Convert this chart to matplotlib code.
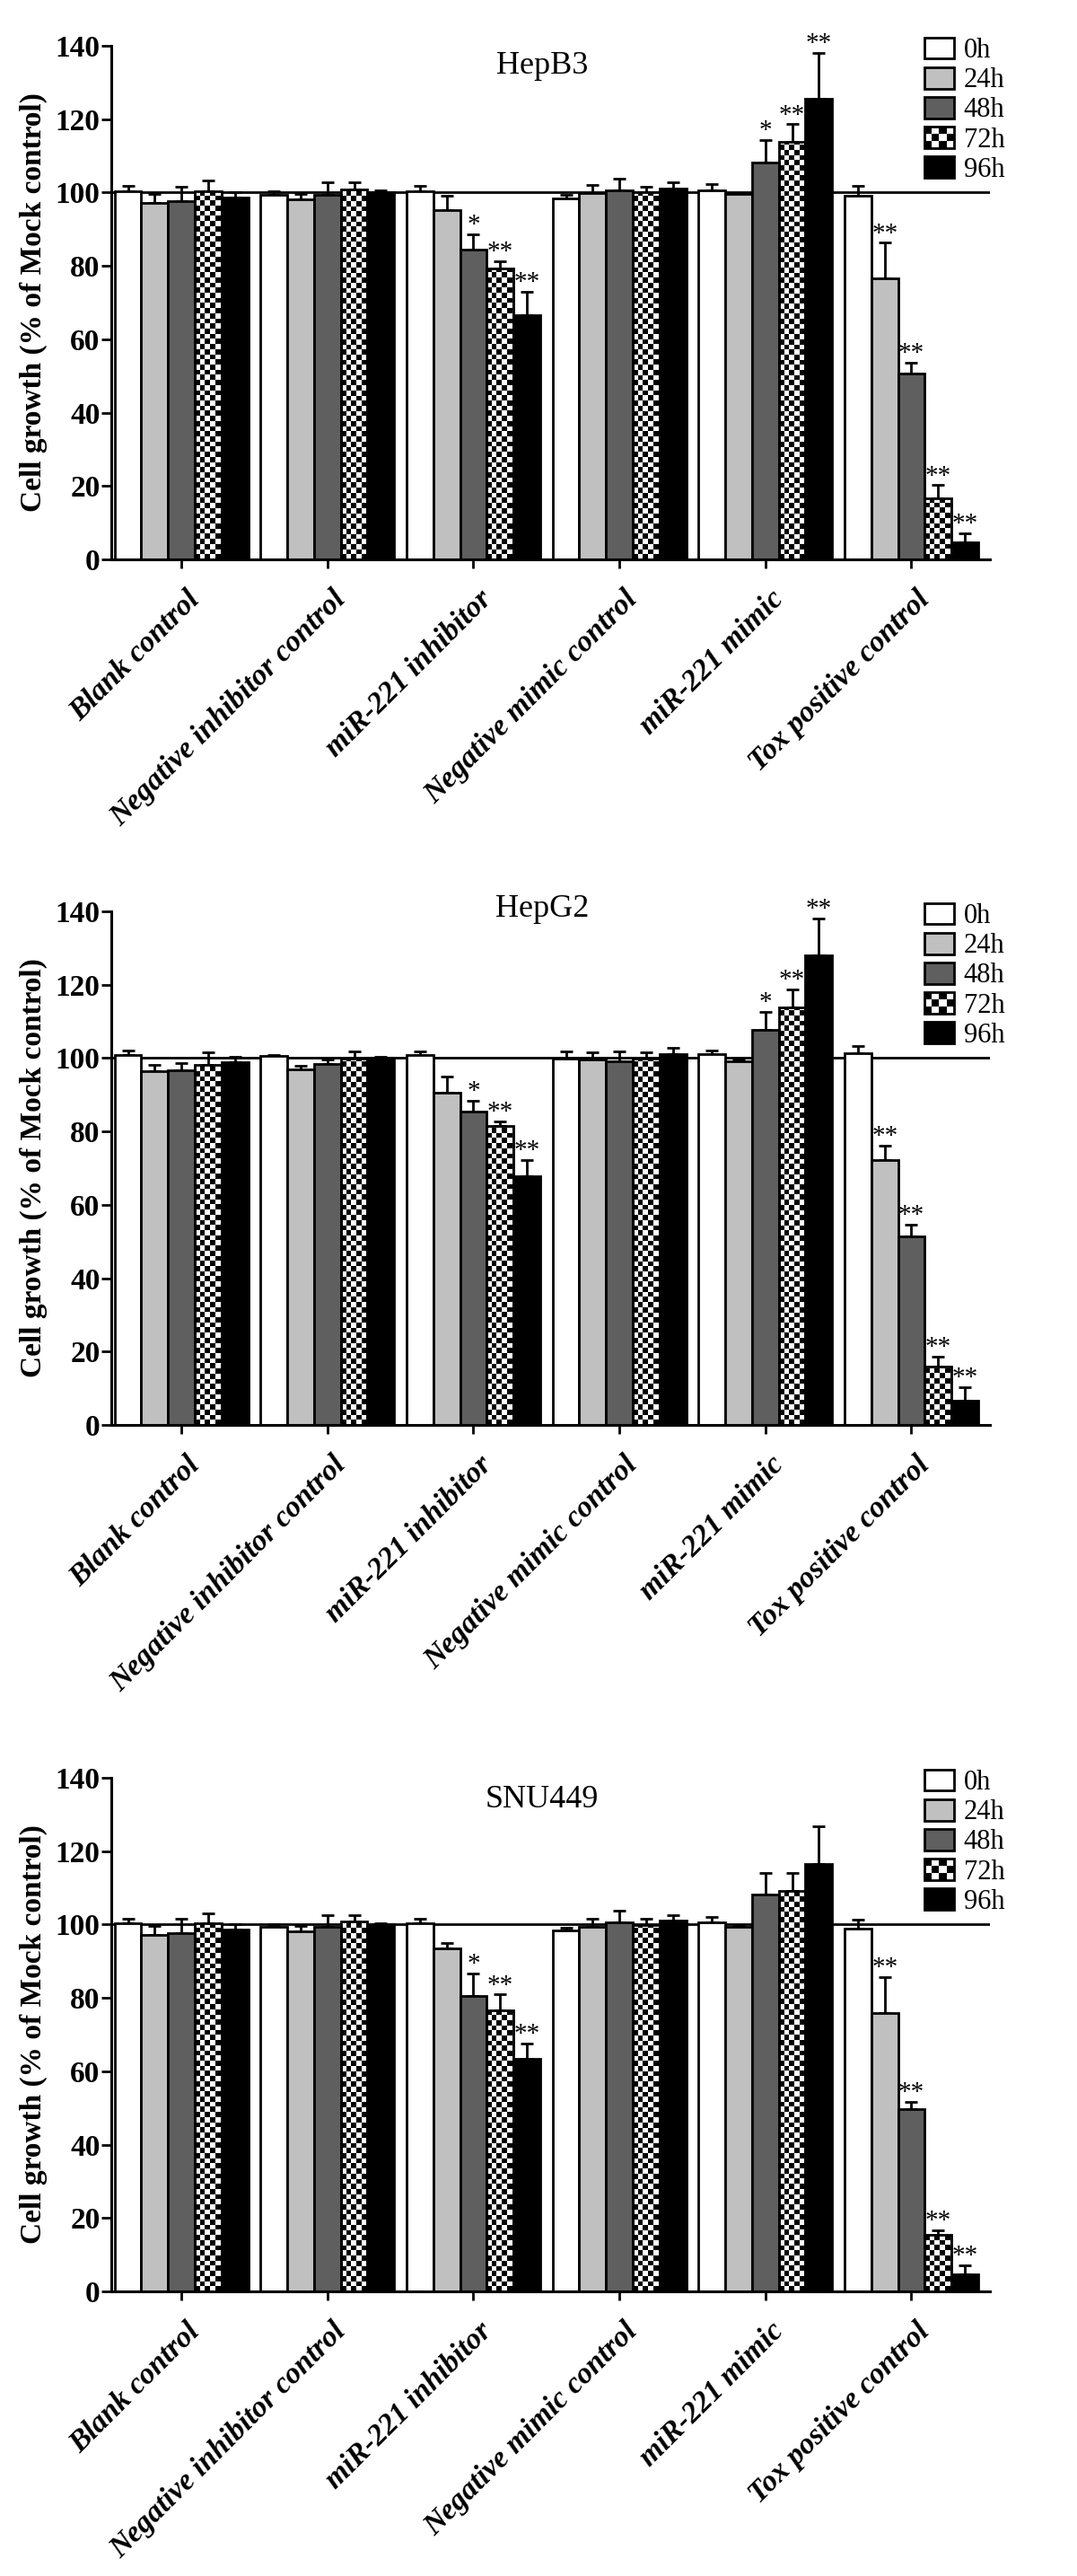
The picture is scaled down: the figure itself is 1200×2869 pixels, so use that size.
import numpy as np
import matplotlib
matplotlib.use("Agg")
import matplotlib.pyplot as plt
import matplotlib.transforms as mtransforms
from matplotlib.patches import Rectangle
from matplotlib.legend_handler import HandlerBase

plt.rcParams['font.family'] = ['Liberation Serif', 'DejaVu Serif']

groups = ["Blank control", "Negative inhibitor control", "miR-221 inhibitor",
          "Negative mimic control", "miR-221 mimic", "Tox positive control"]
times = ["0h", "24h", "48h", "72h", "96h"]
fills = ["white", "#c0c0c0", "#5f5f5f", "checker", "black"]

# one row per time point, one value per group
hepb3_mean = [[100.4, 99.4, 100.4, 98.5, 100.6, 99.2],
              [97.2, 98.2, 95.2, 99.8, 99.5, 76.6],
              [97.7, 99.4, 84.5, 100.6, 108.3, 50.6],
              [100.4, 100.8, 79.4, 100.0, 113.8, 16.7],
              [98.7, 100.2, 66.6, 101.0, 125.6, 4.6]]
hepb3_err = [[1.3, 0.9, 1.3, 0.8, 1.6, 2.5],
             [2.4, 1.3, 4.0, 2.2, 0.3, 9.7],
             [3.8, 3.3, 4.2, 3.2, 6.1, 3.0],
             [2.8, 1.9, 1.9, 1.5, 4.8, 3.5],
             [1.5, 0.3, 6.3, 1.7, 12.5, 2.5]]
hepb3_sig = [["", "", "", "", "", ""],
             ["", "", "", "", "", "**"],
             ["", "", "*", "", "*", "**"],
             ["", "", "**", "", "**", "**"],
             ["", "", "**", "", "**", "**"]]

hepg2_mean = [[100.8, 100.6, 100.8, 99.8, 101.1, 101.3],
              [96.5, 97.0, 90.6, 99.6, 99.2, 72.2],
              [96.6, 98.4, 85.3, 99.2, 107.7, 51.3],
              [98.2, 99.8, 81.4, 99.8, 113.8, 16.0],
              [98.8, 100.0, 67.9, 101.1, 128.1, 6.5]]
hepg2_err = [[1.2, 0.3, 1.0, 2.1, 0.9, 2.1],
             [1.6, 1.0, 4.3, 2.0, 0.3, 3.9],
             [2.0, 1.2, 3.1, 2.5, 5.0, 3.3],
             [3.4, 1.9, 1.3, 1.7, 4.9, 2.6],
             [1.5, 0.3, 4.3, 1.6, 9.9, 3.9]]
hepg2_sig = hepb3_sig

snu449_mean = [[100.3, 99.3, 100.3, 98.4, 100.6, 99.0],
               [97.2, 98.2, 93.5, 99.3, 99.4, 75.9],
               [97.7, 99.3, 80.5, 100.6, 108.2, 49.8],
               [100.4, 100.8, 76.6, 99.8, 109.2, 15.3],
               [98.7, 100.1, 63.3, 101.0, 116.5, 4.6]]
snu449_err = [[1.3, 0.9, 1.3, 0.7, 1.5, 2.4],
              [2.4, 1.3, 1.5, 2.3, 0.3, 9.7],
              [3.8, 3.3, 6.2, 3.2, 5.9, 1.9],
              [2.7, 1.8, 4.3, 1.7, 4.9, 1.3],
              [1.4, 0.3, 4.3, 1.6, 10.2, 2.6]]
snu449_sig = [["", "", "", "", "", ""],
              ["", "", "", "", "", "**"],
              ["", "", "*", "", "", "**"],
              ["", "", "**", "", "", "**"],
              ["", "", "**", "", "", "**"]]

panels = [("HepB3", hepb3_mean, hepb3_err, hepb3_sig, 0.946),
          ("HepG2", hepg2_mean, hepg2_err, hepg2_sig, 0.99),
          ("SNU449", snu449_mean, snu449_err, snu449_sig, 0.942)]


class CheckerHandler(HandlerBase):
    def create_artists(self, legend, orig_handle, xdescent, ydescent,
                       width, height, fontsize, trans):
        x0, y0 = -xdescent, -ydescent
        arts = [Rectangle((x0, y0), width, height, facecolor="white",
                          edgecolor="none", transform=trans)]
        nx, ny = 4, 3
        dx, dy = width / nx, height / ny
        for i in range(nx):
            for j in range(ny):
                if (i + j) % 2 == 0:
                    arts.append(Rectangle((x0 + i * dx, y0 + j * dy), dx, dy,
                                          facecolor="black", edgecolor="none",
                                          transform=trans))
        arts.append(Rectangle((x0, y0), width, height, facecolor="none",
                              edgecolor="black", lw=2, transform=trans))
        return arts


W, H = 1200, 2869
fig = plt.figure(figsize=(W / 100, H / 100), dpi=100)
ax_left, ax_right, ax_h = 124, 1103, 572
ax_tops = [51, 1015, 1980]
xlim = (-0.48, 5.538)
sq = 5.7  # checker square, pixels

x = np.arange(len(groups))
width = 0.183
offsets = (np.arange(len(times)) - 2) * width

for (name, means, errs, sigs, title_y), top in zip(panels, ax_tops):
    ax = fig.add_axes([ax_left / W, 1 - (top + ax_h) / H,
                       (ax_right - ax_left) / W, ax_h / H])
    ppx = (ax_right - ax_left) / (xlim[1] - xlim[0])
    ppy = ax_h / 140.0
    ax.axhline(100, color="black", lw=2, zorder=1)

    for i in range(len(times)):
        m = np.array(means[i])
        e = np.array(errs[i])
        checker = fills[i] == "checker"
        bars = ax.bar(x + offsets[i], m, width,
                      yerr=[np.zeros_like(e), e],
                      facecolor="none" if checker else fills[i],
                      edgecolor="black", linewidth=2, zorder=2.2,
                      error_kw=dict(ecolor="black", elinewidth=2, capsize=5,
                                    capthick=2, zorder=1.5))
        if checker:
            for r in bars:
                bx, bw, bh = r.get_x(), r.get_width(), r.get_height()
                nc = int(np.ceil(bw * ppx / sq))
                nr = int(np.ceil(bh * ppy / sq)) + 1
                board = np.add.outer(np.arange(nr), np.arange(nc)) % 2
                im = ax.imshow(board, cmap="gray", vmin=0, vmax=1,
                               extent=(bx, bx + nc * sq / ppx, 0, nr * sq / ppy),
                               origin="lower", interpolation="nearest",
                               aspect="auto", zorder=2.1)
                im.set_clip_path(r)
        for j in range(len(groups)):
            if sigs[i][j]:
                ax.annotate(sigs[i][j], (x[j] + offsets[i], m[j] + e[j]),
                            xytext=(0, 2), textcoords="offset points",
                            ha="center", va="baseline", fontsize=21)

    ax.set_xlim(*xlim)
    ax.set_ylim(0, 140)
    ax.spines["top"].set_visible(False)
    ax.spines["right"].set_visible(False)
    ax.spines["left"].set_linewidth(2.2)
    ax.spines["bottom"].set_linewidth(2.2)

    ax.set_yticks(range(0, 141, 20))
    ax.tick_params(axis="y", length=8, width=2, pad=1, labelsize=24)
    for lbl in ax.get_yticklabels():
        lbl.set_fontweight("bold")
    ax.set_xticks(x)
    ax.set_xticklabels(groups, rotation=45, ha="right", va="top",
                       rotation_mode="anchor", fontsize=24,
                       fontweight="bold", fontstyle="italic")
    ax.tick_params(axis="x", length=7, width=2, pad=14)
    shift = mtransforms.ScaledTranslation(0.05, 0, fig.dpi_scale_trans)
    for lbl in ax.get_xticklabels():
        lbl.set_transform(lbl.get_transform() + shift)

    ax.set_ylabel("Cell growth (% of Mock control)", fontsize=24,
                  fontweight="bold")
    ax.yaxis.set_label_coords(-0.0725, 0.5)

    ax.text(0.49, title_y, name, transform=ax.transAxes, ha="center",
            va="baseline", fontsize=26)

    handles = []
    checker_proxy = None
    for c in fills:
        if c == "checker":
            checker_proxy = Rectangle((0, 0), 1, 1, facecolor="white",
                                      edgecolor="black", lw=2)
            handles.append(checker_proxy)
        else:
            handles.append(Rectangle((0, 0), 1, 1, facecolor=c,
                                     edgecolor="black", lw=2))
    ax.legend(handles, times, loc="upper left",
              bbox_to_anchor=(0.9254, 1.0163), frameon=False, fontsize=22,
              handlelength=1.08, handleheight=0.82, handletextpad=0.35,
              labelspacing=0.12, borderpad=0, borderaxespad=0,
              handler_map={checker_proxy: CheckerHandler()})

fig.savefig("out.png", dpi=100)
